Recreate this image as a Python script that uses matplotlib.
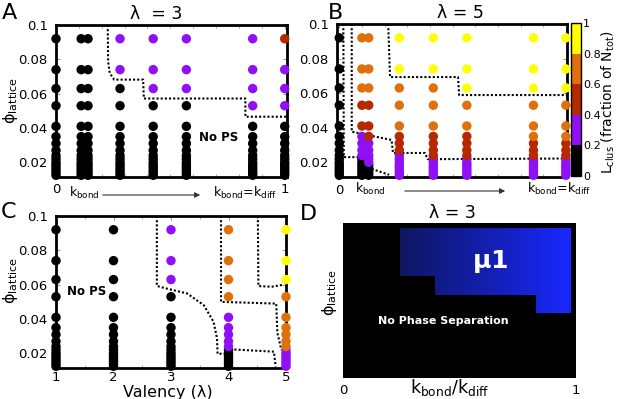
import numpy as np
import matplotlib
matplotlib.use("Agg")
import matplotlib.pyplot as plt
from matplotlib.colors import ListedColormap, BoundaryNorm
import matplotlib.cm as cm

plt.rcParams['mathtext.default'] = 'regular'
plt.rcParams['font.family'] = 'DejaVu Sans'

# ---- data ----
phi_vals = [0.0125, 0.014, 0.0155, 0.017, 0.0185, 0.020, 0.022, 0.024,
            0.027, 0.031, 0.035, 0.041, 0.053, 0.063, 0.074, 0.092]

# L_clus bins per point (0: 0-0.2, 1: 0.2-0.4, ... 4: 0.8-1), low phi -> high phi
kA = [0, 0.11, 0.14, 0.28, 0.425, 0.57, 0.86, 1.0]
binsA = ["0000000000000000", "0000000000000000", "0000000000000000",
         "0000000000000011", "0000000000000111", "0000000000000111",
         "0000000000001111", "0000000000001112"]

kB = [0, 0.1, 0.13, 0.265, 0.415, 0.563, 0.857, 1.0]
binsB = ["0000000000000000", "0000000111122333", "0000011111222333",
         "1111111122233344", "1111111222233344", "1111111222233444",
         "1111111222333444", "1111111222333444"]

valency = [1, 2, 3, 4, 5]
binsC = ["0000000000000000", "0000000000000000", "0000000000000111",
         "0000000111113333", "1111111333333444"]

# phase boundaries (dotted)
bndA_x = [0.226, 0.228, 0.235, 0.254, 0.381, 0.384, 0.828, 0.828, 1.01]
bndA_y = [0.1, 0.0788, 0.072, 0.0682, 0.0682, 0.0572, 0.0572, 0.0466, 0.0466]

bndB = [
    ([0.018, 0.02, 0.085], [0.1, 0.023, 0.023]),
    ([0.055, 0.055, 0.231, 0.237, 0.378, 0.39, 1.0], [0.1, 0.0377, 0.0329, 0.0254, 0.0254, 0.0218, 0.0222]),
    ([0.1, 0.13, 0.22], [0.0205, 0.0168, 0.0128]),
    ([0.216, 0.224, 0.524, 0.529, 1.006], [0.1, 0.0693, 0.0693, 0.0589, 0.0589]),
]

bndC = [
    ([2.754, 2.754, 2.87, 3.28, 3.57, 3.74, 3.80, 3.81, 3.95], [0.1, 0.0593, 0.0582, 0.0549, 0.0481, 0.0384, 0.0288, 0.0198, 0.0198]),
    ([3.87, 3.87, 4.83, 4.85, 4.92], [0.1, 0.050, 0.049, 0.032, 0.022]),
    ([4.03, 4.79, 4.82], [0.0224, 0.021, 0.0123]),
    ([4.51, 4.52, 4.75, 4.96], [0.1, 0.0592, 0.0588, 0.060]),
]

# panel D: mu1 region (x edges, lower phi per step, top phi)
d_x_edges = [0.244, 0.394, 0.831, 0.98]
d_y_floor = [0.0696, 0.0591, 0.0487]
d_y_top = 0.0972

ylo, yhi = 0.0115, 0.1

colors = ['#000000', '#8f10f5', '#b52800', '#e0700c', '#ffff00']
cmap = ListedColormap(colors)
norm = BoundaryNorm([0, 0.2, 0.4, 0.6, 0.8, 1.0], cmap.N)

W, H = 617, 399
fig = plt.figure(figsize=(W / 100, H / 100), dpi=100)


def box(l, t, r, b):
    return [l / W, 1 - b / H, (r - l) / W, (b - t) / H]


def fp(x, y):
    return (x / W, 1 - y / H)


axA = fig.add_axes(box(56, 25, 287, 177))
axB = fig.add_axes(box(337, 24, 567, 177))
cax = fig.add_axes(box(571, 23, 581, 176))
axC = fig.add_axes(box(56, 216, 286, 368))
axD = fig.add_axes(box(343, 223, 576, 378))


def draw_points(ax, xs, bins):
    for x, b in zip(xs, bins):
        lc = [0.1 + 0.2 * int(ch) for ch in b]
        ax.scatter([x] * len(phi_vals), phi_vals, c=lc, cmap=cmap, norm=norm,
                   s=46, linewidths=0, clip_on=False, zorder=3)


def style(ax):
    ax.set_ylim(ylo, yhi)
    ax.set_yticks([0.02, 0.04, 0.06, 0.08, 0.1])
    ax.set_yticklabels(['0.02', '0.04', '0.06', '0.08', '0.1'])
    ax.tick_params(direction='in', top=True, right=True, length=3, width=0.8,
                   color='#999999', labelsize=9.5, pad=6)
    ax.tick_params(which='minor', direction='in', top=True, length=2, color='#999999')
    for s in ax.spines.values():
        s.set_linewidth(2)


dot = dict(color='black', lw=1.5, ls=(0, (1, 1)), zorder=2)

# ---- A ----
draw_points(axA, kA, binsA)
axA.plot(bndA_x, bndA_y, clip_on=False, **dot)
axA.set_xlim(0, 1.01)
style(axA)
axA.set_xticks([0, 1])
axA.set_xticklabels(['0', '1'])
axA.set_xticks(np.arange(0.1, 1.0, 0.1), minor=True)
axA.tick_params(axis='x', pad=4)
axA.text(0.71, 0.0346, 'No PS', fontsize=8.5, fontweight='bold', ha='center', va='center')

# ---- B ----
draw_points(axB, kB, binsB)
for bx, by in bndB:
    axB.plot(bx, by, clip_on=False, **dot)
axB.set_xlim(-0.01, 1.005)
style(axB)
axB.set_xticks([0])
axB.set_xticklabels(['0'])
axB.set_xticks(np.arange(0.1, 1.0, 0.1), minor=True)
axB.tick_params(axis='x', pad=5)

cb = fig.colorbar(cm.ScalarMappable(norm=norm, cmap=cmap), cax=cax,
                  ticks=[0, 0.2, 0.4, 0.6, 0.8, 1.0])
cb.ax.set_yticklabels(['0', '0.2', '0.4', '0.6', '0.8', '1'])
cb.ax.tick_params(length=0, labelsize=8, pad=1.5)
cb.outline.set_linewidth(1)
fig.text(*fp(608, 102), r'$L_{clus}$ (fraction of $N_{tot}$)', fontsize=10,
         rotation=90, ha='center', va='center')

# ---- C ----
draw_points(axC, valency, binsC)
for bx, by in bndC:
    axC.plot(bx, by, clip_on=False, **dot)
axC.set_xlim(1, 5)
style(axC)
axC.set_xticks(valency)
axC.set_xticks(np.arange(1.5, 5, 0.5), minor=True)
axC.tick_params(axis='x', pad=2)
axC.text(1.54, 0.0562, 'No PS', fontsize=8.5, fontweight='bold', ha='center', va='center')

# ---- D ----
nx, ny = 500, 300
gx = np.linspace(0, 1, nx)
gy = np.linspace(ylo, yhi, ny)
X, Y = np.meshgrid(gx, gy)
img = np.zeros((ny, nx, 3))
inside = np.zeros_like(X, dtype=bool)
for i in range(len(d_y_floor)):
    inside |= (X >= d_x_edges[i]) & (X < d_x_edges[i + 1]) & (Y >= d_y_floor[i]) & (Y <= d_y_top)
t = np.clip((X - d_x_edges[0]) / (d_x_edges[-1] - d_x_edges[0]), 0, 1)
dark = np.array([14, 22, 95]) / 255
bright = np.array([25, 40, 255]) / 255
grad = dark[None, None, :] + t[..., None] * (bright - dark)[None, None, :]
img[inside] = grad[inside]
axD.imshow(img, origin='lower', aspect='auto', extent=[0, 1, ylo, yhi], interpolation='nearest')
axD.set_xlim(0, 1)
axD.set_ylim(ylo, yhi)
axD.set_xticks([0, 1])
axD.set_xticklabels(['0', '1'])
axD.set_yticks([])
axD.tick_params(length=0, labelsize=9.5, pad=4)
for s in axD.spines.values():
    s.set_visible(False)
axD.text(0.63, 0.0778, r'$\mathbf{\mu}$1', fontsize=18, fontweight='bold', color='white',
         ha='center', va='center')
axD.text(0.43, 0.0438, 'No Phase Separation', fontsize=8, fontweight='bold', color='white',
         ha='center', va='center')

# ---- labels / titles ----
fig.text(*fp(156, 14), 'λ  = 3', fontsize=12.5, ha='center', va='center')
fig.text(*fp(460, 13), 'λ = 5', fontsize=12.5, ha='center', va='center')
fig.text(*fp(452, 213), 'λ = 3', fontsize=12.5, ha='center', va='center')

for lab, (x, y) in zip('ABCD', [(9, 13), (336, 13), (9, 212), (308, 214)]):
    fig.text(*fp(x, y), lab, fontsize=16, ha='center', va='center')

phi_lab = r'$\phi_{lattice}$'
fig.text(*fp(11, 100), phi_lab, fontsize=11.5, rotation=90, ha='center', va='center')
fig.text(*fp(11, 280), phi_lab, fontsize=11.5, rotation=90, ha='center', va='center')
fig.text(*fp(330, 292), phi_lab, fontsize=11.5, rotation=90, ha='center', va='center')

fig.text(*fp(168, 392), 'Valency (λ)', fontsize=11.5, ha='center', va='center')
fig.text(*fp(450, 387), r'$k_{bond}/k_{diff}$', fontsize=12.5, ha='center', va='center')

# k_bond arrows under A and B
fig.text(*fp(84, 193), r'$k_{bond}$', fontsize=9, ha='center', va='center')
fig.text(*fp(245, 193), r'$k_{bond}$=$k_{diff}$', fontsize=9, ha='center', va='center')
fig.text(*fp(370, 189), r'$k_{bond}$', fontsize=9, ha='center', va='center')
fig.text(*fp(559, 189), r'$k_{bond}$=$k_{diff}$', fontsize=9, ha='center', va='center')
arrow = dict(arrowstyle='-|>', color='#333333', lw=0.8, mutation_scale=8)
fig.add_artist(matplotlib.patches.FancyArrowPatch(fp(100, 195), fp(203, 195), transform=fig.transFigure, **arrow))
fig.add_artist(matplotlib.patches.FancyArrowPatch(fp(402, 191), fp(508, 191), transform=fig.transFigure, **arrow))

fig.savefig('out.png', dpi=100)
